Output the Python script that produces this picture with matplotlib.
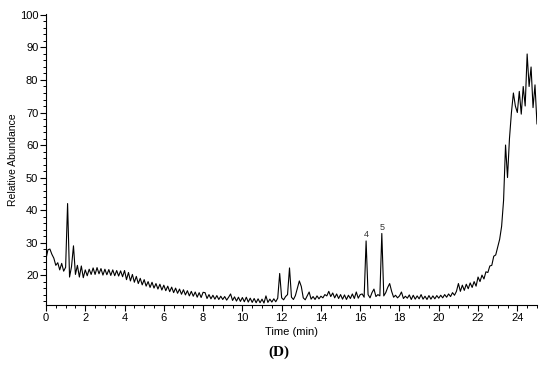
import numpy as np
import matplotlib
matplotlib.use("Agg")
import matplotlib.pyplot as plt
from matplotlib.ticker import MultipleLocator

plt.rcParams['font.family'] = ['Liberation Sans', 'DejaVu Sans']

# chromatogram, one row per minute (0.1 min steps)
abundance = [
    25.0, 27.8, 28.0, 26.4, 25.2, 23.0, 23.8, 21.6, 23.6, 21.2,
    22.4, 42.0, 19.4, 22.6, 29.0, 20.2, 23.0, 19.4, 22.8, 19.2,
    21.6, 19.8, 21.8, 20.2, 22.2, 20.2, 22.3, 20.4, 22.0, 20.0,
    21.8, 20.1, 21.7, 19.9, 21.6, 19.8, 21.4, 19.7, 21.3, 19.5,
    21.4, 18.6, 20.8, 18.2, 20.2, 17.8, 19.6, 17.4, 19.0, 17.0,
    18.6, 16.6, 18.0, 16.2, 17.8, 16.0, 17.4, 15.7, 17.2, 15.4,
    16.9, 15.2, 16.6, 14.9, 16.3, 14.6, 16.0, 14.4, 15.7, 14.1,
    15.5, 13.9, 15.2, 13.6, 15.0, 13.5, 14.8, 13.2, 14.6, 13.1,
    14.7, 14.6, 12.8, 14.0, 12.7, 13.8, 12.6, 13.7, 12.5, 13.5,
    12.5, 13.4, 12.3, 13.2, 14.2, 12.2, 13.3, 12.0, 13.2, 11.9,
    13.1, 11.8, 13.2, 11.7, 12.9, 11.6, 12.8, 11.5, 12.7, 11.5,
    12.6, 11.4, 13.6, 11.6, 12.6, 11.7, 12.7, 11.8, 12.9, 20.5,
    13.0, 12.4, 13.4, 14.0, 22.2, 13.2, 12.5, 13.7, 16.0, 18.2,
    16.5, 13.0, 12.4, 13.6, 14.8, 12.6, 13.4, 12.5, 13.6, 12.7,
    13.5, 13.0, 14.0, 13.6, 15.0, 13.4, 14.5, 13.0, 14.2, 12.8,
    14.0, 12.6, 13.9, 12.5, 13.8, 12.8, 14.2, 12.8, 14.8, 12.9,
    14.0, 14.2, 13.2, 30.5, 14.0, 13.0, 14.6, 15.7, 13.4, 14.0,
    13.6, 32.8, 13.6, 14.6, 16.2, 17.4, 15.0, 13.2, 13.8, 13.0,
    13.6, 14.8, 12.8, 13.5, 12.9, 13.9, 12.5, 13.8, 12.6, 13.6,
    12.7, 14.0, 12.6, 13.5, 12.5, 13.7, 12.6, 13.6, 12.7, 13.7,
    12.9, 13.8, 13.0, 14.0, 13.2, 14.2, 13.4, 14.6, 13.8, 15.0,
    17.4, 15.0, 16.9, 15.3, 17.2, 15.8, 17.6, 16.2, 18.0, 16.6,
    19.4, 18.0, 20.0, 18.8, 21.0, 20.8, 22.8, 23.0, 25.8, 26.2,
    28.6, 31.0, 35.0, 43.0, 60.0, 50.0, 62.0, 70.0, 76.0, 72.0,
    70.0, 76.5, 69.5, 78.0, 72.0, 88.0, 78.0, 84.0, 71.5, 78.5,
    66.5,
]
time_min = np.round(np.arange(len(abundance)) * 0.1, 1)

peak_labels = ['4', '5']
peak_times = [16.3, 17.1]
peak_heights = [30.5, 32.8]

fig = plt.figure(figsize=(5.5, 3.72), dpi=100)
ax = fig.add_axes([0.0836, 0.1801, 0.8927, 0.7823])
ax.plot(time_min, abundance, color='black', lw=0.8)

for lab, t, h in zip(peak_labels, peak_times, peak_heights):
    ax.text(t, h + 0.6, lab, ha='center', va='bottom', fontsize=6.5, color='#333333')

ax.set_xlim(0, 25)
ax.set_ylim(10.8, 100.3)
ax.xaxis.set_major_locator(MultipleLocator(2))
ax.xaxis.set_minor_locator(MultipleLocator(0.5))
ax.set_yticks(range(20, 101, 10))
ax.yaxis.set_minor_locator(MultipleLocator(2))
ax.tick_params(which='major', direction='out', length=4, width=0.8, labelsize=8, pad=1.5)
ax.tick_params(which='minor', direction='out', length=2.5, width=0.7)
for s in ['top', 'right']:
    ax.spines[s].set_visible(False)
for s in ['left', 'bottom']:
    ax.spines[s].set_linewidth(0.8)

ax.set_xlabel('Time (min)', fontsize=8, labelpad=3)
ax.set_ylabel('Relative Abundance', fontsize=7.5, labelpad=1)

fig.text(0.507, 0.054, '(D)', ha='center', va='center', fontsize=11,
         fontweight='bold', family='Liberation Serif')

fig.savefig('out.png', dpi=100)
